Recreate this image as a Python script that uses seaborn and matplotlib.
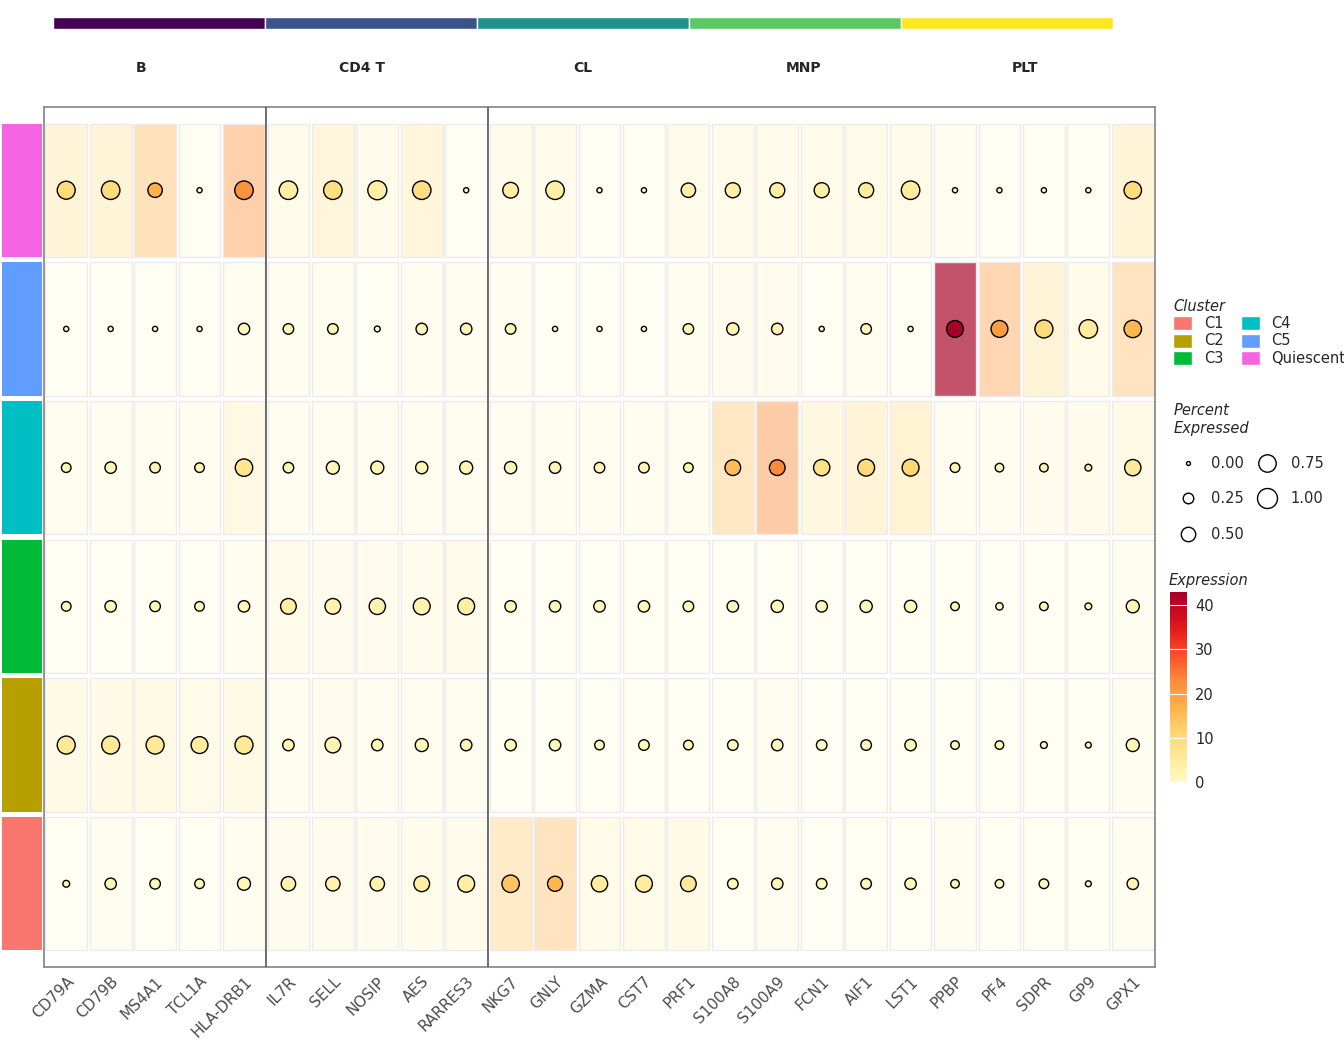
import numpy as np
import pandas as pd
import matplotlib
matplotlib.use("Agg")
import matplotlib.pyplot as plt
import seaborn as sns
from matplotlib.patches import Patch
from matplotlib.lines import Line2D
from matplotlib.colors import Normalize, LinearSegmentedColormap

genes = ['CD79A', 'CD79B', 'MS4A1', 'TCL1A', 'HLA-DRB1', 'IL7R', 'SELL', 'NOSIP', 'AES', 'RARRES3',
         'NKG7', 'GNLY', 'GZMA', 'CST7', 'PRF1', 'S100A8', 'S100A9', 'FCN1', 'AIF1', 'LST1',
         'PPBP', 'PF4', 'SDPR', 'GP9', 'GPX1']
groups = ['B', 'CD4 T', 'CL', 'MNP', 'PLT']
# bottom to top
clusters = ['C1', 'C2', 'C3', 'C4', 'C5', 'Quiescent']
cluster_colors = ['#F8766D', '#B79F00', '#00BA38', '#00BFC4', '#619CFF', '#F564E3']
group_colors = ['#440154', '#3B528B', '#21908C', '#5DC863', '#FDE725']

expr = {
    'C1': [1, 2, 1, 1, 2, 3, 3, 3, 4, 4, 14, 16, 5, 5, 6, 1, 2, 1, 1, 1, 2, 1, 1, 1, 2],
    'C2': [6, 6, 6, 5, 6, 2, 3, 2, 2, 2, 1, 1, 1, 1, 1, 1, 2, 1, 1, 1, 1, 1, 1, 1, 2],
    'C3': [1, 1, 1, 1, 2, 4, 3, 3, 3, 4, 1, 1, 1, 1, 1, 1, 1, 1, 1, 1, 1, 1, 1, 1, 2],
    'C4': [2, 2, 2, 2, 7, 2, 2, 2, 2, 2, 2, 2, 2, 2, 2, 15, 23, 8, 10, 11, 2, 2, 3, 4, 6],
    'C5': [1, 1, 1, 1, 2, 2, 2, 1, 2, 2, 2, 1, 1, 1, 2, 3, 3, 1, 2, 1, 43, 20, 10, 5, 16],
    'Quiescent': [10, 10, 17, 1, 22, 4, 9, 4, 9, 1, 4, 4, 1, 1, 4, 4, 4, 4, 5, 5, 2, 1, 1, 1, 10],
}
pct = {
    'C1': [0.08, 0.3, 0.25, 0.2, 0.4, 0.5, 0.5, 0.5, 0.6, 0.7, 0.75, 0.55, 0.65, 0.7, 0.6,
           0.25, 0.3, 0.25, 0.25, 0.3, 0.15, 0.15, 0.2, 0.05, 0.3],
    'C2': [0.8, 0.8, 0.8, 0.7, 0.8, 0.3, 0.6, 0.3, 0.4, 0.3, 0.3, 0.3, 0.2, 0.25, 0.2,
           0.25, 0.3, 0.25, 0.25, 0.3, 0.15, 0.15, 0.08, 0.05, 0.4],
    'C3': [0.2, 0.3, 0.25, 0.2, 0.3, 0.6, 0.6, 0.65, 0.7, 0.7, 0.3, 0.3, 0.3, 0.3, 0.25,
           0.3, 0.35, 0.3, 0.35, 0.35, 0.15, 0.1, 0.15, 0.08, 0.4],
    'C4': [0.2, 0.3, 0.25, 0.2, 0.75, 0.25, 0.4, 0.4, 0.35, 0.4, 0.35, 0.3, 0.25, 0.25, 0.2,
           0.6, 0.6, 0.65, 0.7, 0.7, 0.2, 0.15, 0.15, 0.08, 0.65],
    'C5': [0.03, 0.03, 0.03, 0.03, 0.3, 0.25, 0.25, 0.05, 0.3, 0.3, 0.25, 0.03, 0.03, 0.03, 0.25,
           0.35, 0.3, 0.03, 0.25, 0.03, 0.7, 0.7, 0.8, 0.85, 0.75],
    'Quiescent': [0.8, 0.85, 0.5, 0.03, 0.85, 0.85, 0.85, 0.9, 0.85, 0.03, 0.6, 0.85, 0.03, 0.03, 0.5,
                  0.55, 0.55, 0.55, 0.55, 0.85, 0.03, 0.03, 0.03, 0.03, 0.75],
}

rows = []
for ci, c in enumerate(clusters):
    for gi, g in enumerate(genes):
        rows.append(dict(cluster=c, y=ci, gene=g, x=gi, expr=expr[c][gi], pct=pct[c][gi]))
df = pd.DataFrame(rows)

sns.set_theme(style="white")
plt.rcParams['font.family'] = ['DejaVu Sans']
base = plt.get_cmap('YlOrRd')
cmap = LinearSegmentedColormap.from_list('ylorrd_t', base(np.linspace(0.03, 0.92, 256)))
norm = Normalize(0, 43)

fig = plt.figure(figsize=(13.44, 10.56), dpi=100)
W, H = 1344, 1056
ax = fig.add_axes([44 / W, 1 - 967 / H, 1111 / W, 860 / H])

# background tiles: same colour scale, more transparent for low values
for _, r in df.iterrows():
    v = norm(r.expr)
    col = np.array(cmap(v))
    a = 0.18 + 0.5 * v
    col[:3] = 1 - a * (1 - col[:3])
    ax.add_patch(plt.Rectangle((r.x - 0.47, r.y - 0.48), 0.94, 0.96, facecolor=col,
                               edgecolor='#ebebeb', lw=1, zorder=1))

sns.scatterplot(data=df, x='x', y='y', hue='expr', palette=cmap, hue_norm=norm,
                size='pct', sizes=(8, 207), size_norm=(0, 1), edgecolor='black',
                linewidth=1, legend=False, ax=ax, zorder=3)

for xv in [4.5, 9.5]:
    ax.axvline(xv, color='#555555', lw=1.2, zorder=4)
ax.set_xlim(-0.5, 24.5)
ax.set_ylim(-0.6, 5.6)
ax.set_xticks(range(len(genes)))
ax.set_xticklabels(genes, rotation=45, ha='right', rotation_mode='anchor',
                   fontsize=11, color='#4d4d4d')
ax.tick_params(axis='x', length=3, color='#333333', pad=2)
ax.set_yticks([])
ax.set_xlabel('')
ax.set_ylabel('')
for s in ax.spines.values():
    s.set_color('#888888')

# left cluster strips
for ci, c in enumerate(clusters):
    ax.add_patch(plt.Rectangle((-1.445, ci - 0.48), 0.9, 0.96, facecolor=cluster_colors[ci],
                               clip_on=False, lw=0))

# top group bar
tax = fig.add_axes([53 / W, 1 - 29 / H, 1060 / W, 12 / H])
for i, gc in enumerate(group_colors):
    tax.barh(0, 1, left=i, color=gc, height=1)
tax.set_xlim(0, 5)
tax.set_ylim(-0.5, 0.5)
tax.axis('off')
for i, g in enumerate(groups):
    fig.text((141 + 221 * i) / W, 1 - 68 / H, g, ha='center', va='center',
             fontsize=10, fontweight='bold')

# legends
handles = [Patch(facecolor=cluster_colors[i], label=c) for i, c in enumerate(clusters)]
leg1 = fig.legend(handles=handles, title='Cluster', ncol=2, loc='upper left',
                  bbox_to_anchor=(1160 / W, 1 - 286 / H), frameon=False, fontsize=10.5,
                  title_fontsize=10.5, alignment='left', handlelength=1.3, handleheight=1.1,
                  columnspacing=1.2, labelspacing=0.15)
leg1.get_title().set_fontstyle('italic')

vals = [0.0, 0.25, 0.5, 0.75, 1.0]
sh = [Line2D([], [], marker='o', ls='', markerfacecolor='white', markeredgecolor='black',
             markersize=np.sqrt(8 + (207 - 8) * v), label=f'{v:.2f}') for v in vals]
leg2 = fig.legend(handles=sh, title='Percent\nExpressed', ncol=2, loc='upper left',
                  bbox_to_anchor=(1160 / W, 1 - 390 / H), frameon=False, fontsize=10.5,
                  title_fontsize=10.5, alignment='left', labelspacing=1.4, columnspacing=0.6,
                  handletextpad=0.6)
leg2.get_title().set_fontstyle('italic')

cax = fig.add_axes([1170 / W, 1 - 782 / H, 17 / W, 190 / H])
cb = fig.colorbar(plt.cm.ScalarMappable(norm=norm, cmap=cmap), cax=cax)
cb.set_ticks([0, 10, 20, 30, 40])
cb.outline.set_visible(False)
for t in [10, 20, 30, 40]:
    cax.axhline(t, color='white', lw=0.8)
cax.tick_params(length=0, labelsize=10.5, pad=6)
fig.text(1169 / W, 1 - 581 / H, 'Expression', fontsize=10.5, style='italic', va='center')

fig.savefig('out.png', dpi=100)
